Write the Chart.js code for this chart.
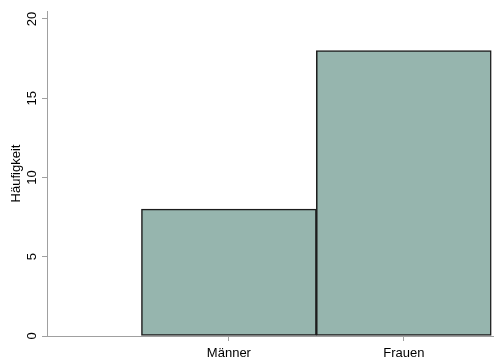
<!DOCTYPE html>
<html>
<head>
<meta charset="utf-8">
<script src="https://cdn.jsdelivr.net/npm/chart.js@4/dist/chart.umd.min.js"></script>
<style>
  html, body { margin: 0; padding: 0; background: #fff; }
  #wrap { width: 496px; height: 360px; }
</style>
</head>
<body>
<div id="wrap"><canvas id="c" width="496" height="360"></canvas></div>
<script>
// Geschlecht und Häufigkeit
const categories = ['Männer', 'Frauen'];
const positions = [1, 2];
const counts = [8, 18];
const yTicks = [0, 5, 10, 15, 20];

const axisGrey = '#a0a0a0';

new Chart(document.getElementById('c'), {
  type: 'bar',
  data: {
    datasets: [{
      data: positions.map((p, i) => ({ x: p, y: counts[i] })),
      backgroundColor: '#96b5ae',
      borderColor: '#1c1c1c',
      borderWidth: 1.5,
      borderSkipped: false,
      barPercentage: 1,
      categoryPercentage: 1
    }]
  },
  options: {
    responsive: false,
    animation: false,
    layout: { padding: { top: 11, right: 3, left: 0, bottom: 0 } },
    plugins: { legend: { display: false }, tooltip: { enabled: false } },
    scales: {
      x: {
        type: 'linear',
        offset: false,
        min: -0.04,
        max: 2.51,
        afterBuildTicks: s => { s.ticks = positions.map(v => ({ value: v })); },
        afterFit: s => { s.height = 24; },
        ticks: {
          callback: v => categories[positions.indexOf(v)] ?? '',
          color: '#000',
          font: { family: 'Liberation Sans', size: 13 },
          padding: 5,
          maxRotation: 0,
          autoSkip: false
        },
        grid: { offset: false, drawOnChartArea: false, drawTicks: true, tickLength: 5, color: axisGrey },
        border: { display: true, color: axisGrey, width: 1 }
      },
      y: {
        min: 0,
        max: 20.5,
        afterBuildTicks: s => { s.ticks = yTicks.map(v => ({ value: v })); },
        afterFit: s => { s.width = 47; },
        title: {
          display: true,
          text: 'Häufigkeit',
          color: '#000',
          font: { family: 'Liberation Sans', size: 13 },
          padding: { top: 9, bottom: 0 }
        },
        ticks: {
          color: '#000',
          font: { family: 'Liberation Sans', size: 13 },
          minRotation: 90,
          maxRotation: 90,
          crossAlign: 'center',
          padding: 2
        },
        grid: { drawOnChartArea: false, drawTicks: true, tickLength: 5, color: axisGrey },
        border: { display: true, color: axisGrey, width: 1 }
      }
    }
  }
});
</script>
</body>
</html>
